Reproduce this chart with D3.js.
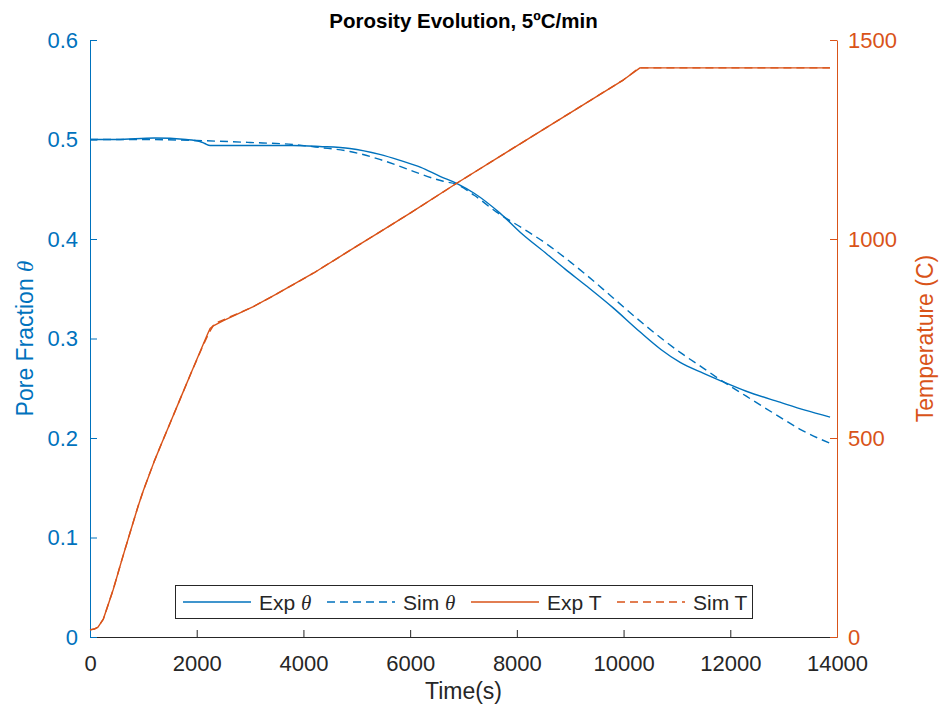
<!DOCTYPE html>
<html>
<head>
<meta charset="utf-8">
<script src="https://cdn.jsdelivr.net/npm/d3@7"></script>
<style>
  html, body { margin: 0; padding: 0; background: #fff; }
  svg { display: block; font-family: "Liberation Sans", Arial, Helvetica, sans-serif; }
</style>
</head>
<body>
<svg id="chart" width="941" height="712"></svg>
<script>
// ---------- data ----------
const expThetaTime = [0, 500, 1200, 1800, 2060, 2150, 2250, 3000, 3800, 4300, 4870, 5430, 5810, 6200, 6560, 6870, 7200, 7684, 8100, 8560, 8900, 9300, 9800, 10300, 10700, 11060, 11500, 11800, 12300, 12930, 13400, 13870];
const expTheta     = [0.500, 0.500, 0.5015, 0.500, 0.498, 0.496, 0.494, 0.494, 0.494, 0.493, 0.491, 0.485, 0.479, 0.472, 0.463, 0.456, 0.446, 0.426, 0.405, 0.385, 0.370, 0.353, 0.331, 0.307, 0.289, 0.276, 0.265, 0.258, 0.247, 0.236, 0.228, 0.221];

const simThetaTime = [0, 1000, 2000, 3000, 3800, 4300, 4870, 5430, 5810, 6060, 6620, 6870, 7200, 7620, 8100, 8560, 9000, 9300, 9800, 10433, 11060, 11500, 11800, 12300, 12930, 13300, 13900];
const simTheta     = [0.500, 0.500, 0.499, 0.497, 0.495, 0.492, 0.488, 0.480, 0.473, 0.468, 0.458, 0.455, 0.444, 0.427, 0.411, 0.395, 0.377, 0.364, 0.341, 0.312, 0.286, 0.270, 0.259, 0.242, 0.221, 0.209, 0.194];

const expTTime = [0, 80, 150, 250, 350, 437, 600, 750, 900, 1000, 1100, 1200, 1312, 1500, 1687, 1900, 2124, 2200, 2250, 2311, 2500, 3061, 3500, 4185, 5000, 5435, 6000, 6872, 8000, 9000, 10000, 10307, 13868];
const expT     = [18, 20, 25, 45, 85, 120, 195, 262, 328, 368, 404, 440, 477, 537, 597, 665, 736, 760, 775, 782, 795, 830, 862, 914, 982, 1018, 1065, 1140, 1234, 1317, 1400, 1430, 1430];

const simTTime = [0, 80, 150, 250, 350, 437, 600, 750, 900, 1000, 1100, 1200, 1312, 1500, 1687, 1900, 2124, 2230, 2330, 2500, 3061, 3500, 4185, 5000, 5435, 6000, 6872, 8000, 9000, 10000, 10290, 13868];
const simT     = [18, 20, 25, 45, 85, 120, 195, 262, 328, 368, 404, 440, 477, 537, 597, 665, 734, 764, 787, 797, 830, 862, 914, 982, 1018, 1065, 1140, 1234, 1317, 1400, 1430, 1430];

const xTicks = [0, 2000, 4000, 6000, 8000, 10000, 12000, 14000];
const leftTicks = [0, 0.1, 0.2, 0.3, 0.4, 0.5, 0.6];
const rightTicks = [0, 500, 1000, 1500];
const legendLabels = [["Exp ", "θ"], ["Sim ", "θ"], ["Exp T", ""], ["Sim T", ""]];

// ---------- layout ----------
const BLUE = "#0072BD", ORANGE = "#D95319", DARK = "#262626";
const L = 90, R = 837, T = 40, B = 637;

const svg = d3.select("#chart");
const x = d3.scaleLinear().domain([0, 14000]).range([L, R]);
const yL = d3.scaleLinear().domain([0, 0.6]).range([B, T]);
const yR = d3.scaleLinear().domain([0, 1500]).range([B, T]);

const fmtX = d3.format("d");
// Axes
const gx = svg.append("g").attr("transform", `translate(0,${B})`)
  .call(d3.axisBottom(x).tickValues(xTicks).tickFormat(fmtX).tickSizeInner(-7).tickSizeOuter(0).tickPadding(18));
gx.select(".domain").attr("stroke", DARK);
gx.selectAll(".tick line").attr("stroke", DARK);
gx.selectAll(".tick text").attr("fill", DARK).attr("font-size", 22).attr("font-family", null);

const gl = svg.append("g").attr("transform", `translate(${L},0)`)
  .call(d3.axisLeft(yL).tickValues(leftTicks).tickFormat(d => d === 0 ? "0" : d3.format(".1f")(d)).tickSizeInner(-7).tickSizeOuter(0).tickPadding(12));
gl.select(".domain").attr("stroke", BLUE);
gl.selectAll(".tick line").attr("stroke", BLUE);
gl.selectAll(".tick text").attr("fill", BLUE).attr("font-size", 22).attr("font-family", null);

const gr = svg.append("g").attr("transform", `translate(${R},0)`)
  .call(d3.axisRight(yR).tickValues(rightTicks).tickFormat(fmtX).tickSizeInner(-7).tickSizeOuter(0).tickPadding(11));
gr.select(".domain").attr("stroke", ORANGE);
gr.selectAll(".tick line").attr("stroke", ORANGE);
gr.selectAll(".tick text").attr("fill", ORANGE).attr("font-size", 22).attr("font-family", null);

// Lines
const zip = (a, b) => a.map((v, i) => [v, b[i]]);
const lineL = d3.line().x(d => x(d[0])).y(d => yL(d[1])).curve(d3.curveMonotoneX);
const lineR = d3.line().x(d => x(d[0])).y(d => yR(d[1])).curve(d3.curveLinear);

const plot = svg.append("g").attr("fill", "none").attr("stroke-width", 1.4).attr("stroke-linejoin", "round");
plot.append("path").attr("d", lineL(zip(expThetaTime, expTheta))).attr("stroke", BLUE);
plot.append("path").attr("d", lineL(zip(simThetaTime, simTheta))).attr("stroke", BLUE).attr("stroke-dasharray", "8,5");
plot.append("path").attr("d", lineR(zip(expTTime, expT))).attr("stroke", ORANGE);
plot.append("path").attr("d", lineR(zip(simTTime, simT))).attr("stroke", ORANGE).attr("stroke-dasharray", "8,5");

// Title & axis labels
svg.append("text").attr("x", (L + R) / 2).attr("y", 28).attr("text-anchor", "middle")
  .attr("font-size", 20.5).attr("font-weight", "bold").attr("fill", "#000").text("Porosity Evolution, 5ºC/min");

svg.append("text").attr("x", (L + R) / 2).attr("y", 699).attr("text-anchor", "middle")
  .attr("font-size", 23).attr("fill", DARK).text("Time(s)");

const yl = svg.append("text").attr("transform", `translate(33,${(T + B) / 2}) rotate(-90)`)
  .attr("text-anchor", "middle").attr("font-size", 23).attr("fill", BLUE);
yl.append("tspan").text("Pore Fraction ");
yl.append("tspan").attr("font-family", "'Liberation Serif', 'DejaVu Serif', serif").attr("font-style", "italic").text("θ");

svg.append("text").attr("transform", `translate(933,${(T + B) / 2}) rotate(-90)`)
  .attr("text-anchor", "middle").attr("font-size", 23).attr("fill", ORANGE).text("Temperature (C)");

// Legend
const legend = svg.append("g");
legend.append("rect").attr("x", 175.5).attr("y", 585.5).attr("width", 577).attr("height", 33)
  .attr("fill", "#fff").attr("stroke", DARK).attr("stroke-width", 1);
const legendStyles = [
  { color: BLUE, dash: null }, { color: BLUE, dash: "8,5" },
  { color: ORANGE, dash: null }, { color: ORANGE, dash: "8,5" }
];
const itemStart = [183, 327, 471, 617];
legendLabels.forEach((lab, i) => {
  const x0 = itemStart[i];
  legend.append("line").attr("x1", x0).attr("x2", x0 + 68).attr("y1", 602).attr("y2", 602)
    .attr("stroke", legendStyles[i].color).attr("stroke-width", 1.4)
    .attr("stroke-dasharray", legendStyles[i].dash);
  const t = legend.append("text").attr("x", x0 + 76).attr("y", 609.5).attr("font-size", 21).attr("fill", DARK);
  t.append("tspan").text(lab[0]);
  if (lab[1]) t.append("tspan").attr("font-family", "'Liberation Serif', 'DejaVu Serif', serif").attr("font-style", "italic").text(lab[1]);
});
</script>
</body>
</html>
